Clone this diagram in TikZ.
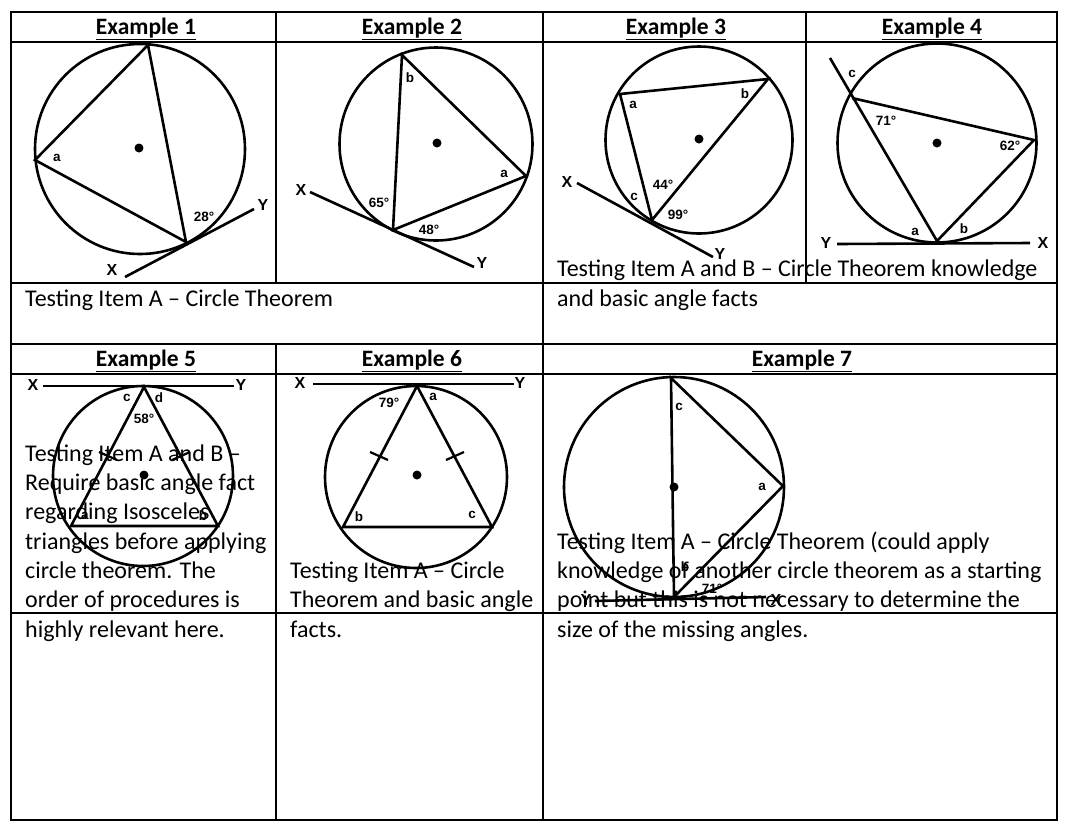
\documentclass[tikz,border=0pt]{standalone}
\usepackage{fontspec}
\usetikzlibrary{calc}
\setmainfont{Carlito}
\newfontfamily\lblfont{Liberation Sans}
\begin{document}
\begin{tikzpicture}[x=1pt,y=-1pt,
  grid/.style={line width=1.3pt},
  geo/.style={line width=2.6pt},
  hdr/.style={anchor=base,font=\fontsize{23.5}{26}\selectfont\bfseries,inner sep=0pt},
  body/.style={anchor=base west,align=left,font=\fontsize{24}{29.3}\selectfont,inner sep=0pt},
  lbl/.style={font=\lblfont\bfseries\fontsize{13.5}{14}\selectfont,inner sep=0pt},
  XY/.style={font=\lblfont\bfseries\fontsize{16}{16}\selectfont,inner sep=0pt}]
\useasboundingbox (0,0) rectangle (1069,831);
% table grid
\draw[grid] (11,12) rectangle (1057,820);
\foreach \y in {42,283,344,374,613} \draw[grid] (11,\y) -- (1057,\y);
\draw[grid] (276,12) -- (276,283);
\draw[grid] (543,12) -- (543,820);
\draw[grid] (806,12) -- (806,283);
\draw[grid] (276,344) -- (276,820);
% headers
\node[hdr] (h1) at (146,34) {\underline{Example 1}};
\node[hdr] (h2) at (412,34) {\underline{Example 2}};
\node[hdr] (h3) at (676,34) {\underline{Example 3}};
\node[hdr] (h4) at (932,34) {\underline{Example 4}};
\node[hdr] (h5) at (146,366) {\underline{Example 5}};
\node[hdr] (h6) at (412,366) {\underline{Example 6}};
\node[hdr] (h7) at (802,366) {\underline{Example 7}};
% body texts
\node[body] (t1) at (25,306) {Testing Item A -- Circle Theorem};
\node[body] (t2) at (557,306) {Testing Item A and B -- Circle Theorem knowledge\\and basic angle facts};
\node[body] (t5) at (25,637) {Testing Item A and B --\\Require basic angle fact\\regarding Isosceles\\triangles before applying\\circle theorem. The\\order of procedures is\\highly relevant here.};
\node[body] (t6) at (290,637) {Testing Item A -- Circle\\Theorem and basic angle\\facts.};
\node[body] (t7) at (557,637) {Testing Item A -- Circle Theorem (could apply\\knowledge of another circle theorem as a starting\\point but this is not necessary to determine the\\size of the missing angles.};
% Example 1
\draw[geo] (140,149) circle (105);
\fill (139,148) circle (4.5);
\coordinate (a1) at (148,45); \coordinate (b1) at (35,160); \coordinate (c1) at (186,242);
\coordinate (x1) at (125,277); \coordinate (y1) at (254,209);
\draw[geo] (a1) -- (b1) -- (c1) -- cycle;
\draw[geo] (x1) -- (y1);
\node[lbl] at (57,158) {a}; \node[lbl] at (204,217) {28°};
\node[XY] at (263,205) {Y}; \node[XY] at (112,270) {X};
% Example 2
\draw[geo] (436,144) circle (96.5);
\fill (437,143) circle (4.5);
\coordinate (a2) at (402,55); \coordinate (b2) at (526,176); \coordinate (c2) at (393,230);
\coordinate (x2) at (310,192); \coordinate (y2) at (474,267);
\draw[geo] (a2) -- (b2) -- (c2) -- cycle;
\draw[geo] (x2) -- (y2);
\node[lbl] at (410,78) {b}; \node[lbl] at (504,174) {a};
\node[lbl] at (379,203) {65°}; \node[lbl] at (429,230) {48°};
\node[XY] at (301,190) {X}; \node[XY] at (482,263) {Y};
% Example 3
\draw[geo] (699,140) circle (93.5);
\fill (699,139) circle (4.5);
\coordinate (a3) at (620,94); \coordinate (b3) at (768,79); \coordinate (c3) at (652,220);
\coordinate (x3) at (577,183); \coordinate (y3) at (713,257);
\draw[geo] (a3) -- (b3) -- (c3) -- cycle;
\draw[geo] (x3) -- (y3);
\node[lbl] at (633,105) {a}; \node[lbl] at (745,94) {b};
\node[lbl] at (663,185) {44°}; \node[lbl] at (634,197) {c}; \node[lbl] at (678,215) {99°};
\node[XY] at (567,182) {X}; \node[XY] at (720,254) {Y};
% Example 4
\draw[geo] (937,143) circle (99.5);
\fill (937,143) circle (4.5);
\coordinate (a4) at (852,98); \coordinate (b4) at (1034,140); \coordinate (c4) at (937,241);
\coordinate (e4) at (830,58);
\coordinate (y4) at (837,244); \coordinate (x4) at (1030,243);
\draw[geo] (a4) -- (b4) -- (c4) -- (e4);
\draw[geo] (y4) -- (x4);
\node[lbl] at (852,74) {c}; \node[lbl] at (886,121) {71°}; \node[lbl] at (1010,146) {62°};
\node[lbl] at (915,232) {a}; \node[lbl] at (964,229) {b};
\node[XY] at (826,243) {Y}; \node[XY] at (1043,243) {X};
% Example 5
\draw[geo] (143,476) circle (90);
\fill (144,475) circle (4.5);
\coordinate (a5) at (144,387); \coordinate (b5) at (71,526); \coordinate (c5) at (218,526);
\coordinate (x5) at (43,386); \coordinate (y5) at (234,386);
\draw[geo] (a5) -- (b5) -- (c5) -- cycle;
\draw[geo] (x5) -- (y5);
\draw[line width=2.2pt] ($(108,456)+(-9,-4)$) -- ($(108,456)+(9,4)$);
\draw[line width=2.2pt] ($(181,456)+(-9,4)$) -- ($(181,456)+(9,-4)$);
\node[lbl] at (127,398) {c}; \node[lbl] at (159,398) {d}; \node[lbl] at (144,419) {58°};
\node[lbl] at (85,516) {a}; \node[lbl] at (203,516) {b};
\node[XY] at (33,385) {X}; \node[XY] at (241,385) {Y};
% Example 6
\draw[geo] (416,477) circle (91);
\fill (417,475) circle (4.5);
\coordinate (a6) at (417,386); \coordinate (b6) at (343,527); \coordinate (c6) at (492,527);
\coordinate (x6) at (313,384); \coordinate (y6) at (514,384);
\draw[geo] (a6) -- (b6) -- (c6) -- cycle;
\draw[geo] (x6) -- (y6);
\draw[line width=2.2pt] ($(379,456)+(-9,-4)$) -- ($(379,456)+(9,4)$);
\draw[line width=2.2pt] ($(455,456)+(-9,4)$) -- ($(455,456)+(9,-4)$);
\node[lbl] at (389,403) {79°}; \node[lbl] at (433,397) {a};
\node[lbl] at (359,517) {b}; \node[lbl] at (472,515) {c};
\node[XY] at (300,383) {X}; \node[XY] at (520,383) {Y};
% Example 7
\draw[geo] (674,487) circle (110);
\fill (674,487) circle (4.5);
\coordinate (a7) at (671,378); \coordinate (b7) at (783,486); \coordinate (c7) at (674,597);
\coordinate (y7) at (595,601); \coordinate (x7) at (766,597);
\draw[geo] (a7) -- (b7) -- (c7) -- cycle;
\draw[geo] (y7) -- (x7);
\node[lbl] at (679,407) {c}; \node[lbl] at (762,487) {a};
\node[lbl] at (685,567) {b}; \node[lbl] at (712,589) {71°};
\node[XY] at (586,600) {Y}; \node[XY] at (776,600) {X};
\end{tikzpicture}
\end{document}
